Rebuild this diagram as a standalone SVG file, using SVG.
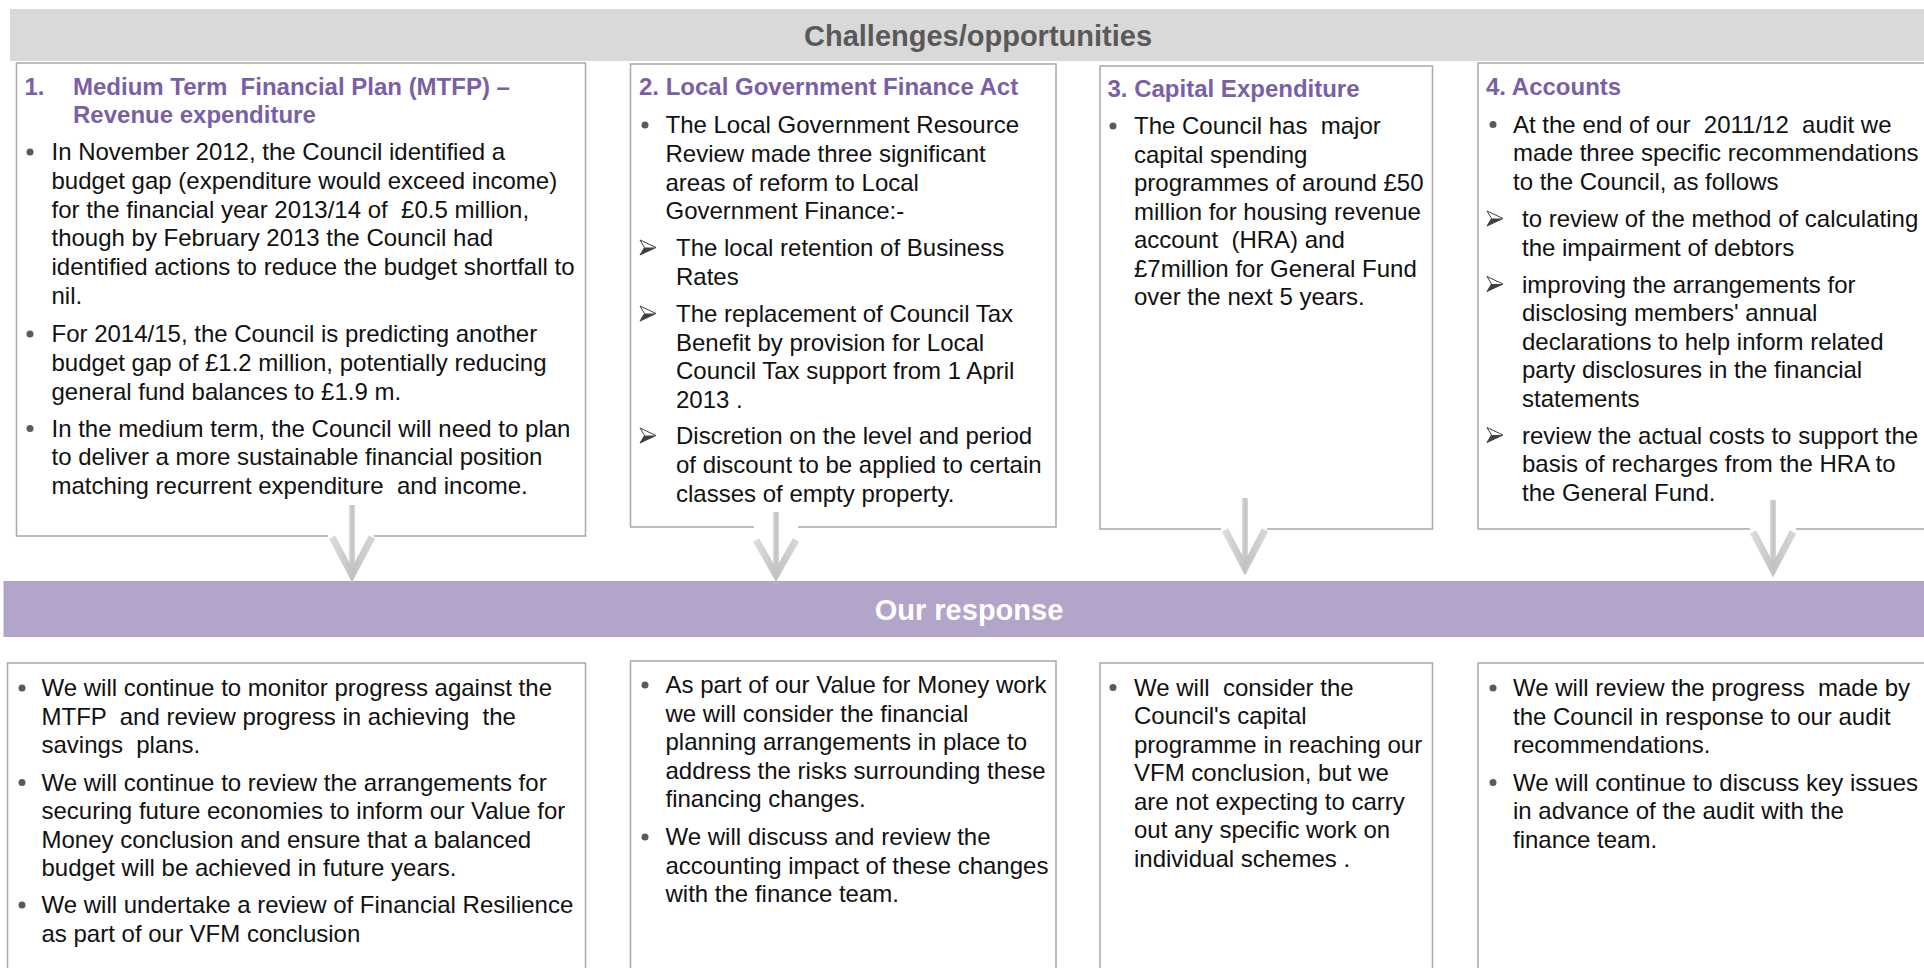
<svg xmlns="http://www.w3.org/2000/svg" width="1924" height="968" viewBox="0 0 1924 968">
<defs>
<style>
text { font-family: "Liberation Sans", Arial, sans-serif; white-space: pre; }
.t { font-size: 24px; fill: #111111; }
.h { font-size: 24px; font-weight: bold; fill: #7b5fa6; }
.title { font-size: 29px; font-weight: bold; text-anchor: middle; }
.box { fill: #ffffff; stroke: #a9a9a9; stroke-width: 1.5; }
.dot { fill: #5a5a5a; }
.shaft { fill: url(#ag); }
.vhead { fill: none; stroke: url(#ag); stroke-width: 7; stroke-linejoin: miter; }
.gap { fill: #ffffff; }
</style>
<linearGradient id="ag" x1="0" y1="0" x2="1" y2="0">
<stop offset="0" stop-color="#dcdcdc"/>
<stop offset="0.5" stop-color="#c2c2c2"/>
<stop offset="1" stop-color="#d6d6d6"/>
</linearGradient>
<symbol id="arr" viewBox="0 0 16 15" width="16" height="15" overflow="visible">
<path d="M0,0 L16,7.5 L0,15 L4.5,7.5 Z" fill="#ffffff" stroke="#404040" stroke-width="1"/>
<path d="M4.5,7.5 L16,7.5 L0,15 Z" fill="#404040"/>
</symbol>
</defs>

<g id="header-challenges">
<rect x="10" y="9" width="1914" height="52" fill="#d9d9d9"/>
<text class="title" x="978" y="46" fill="#595959">Challenges/opportunities</text>
</g>

<g id="header-response">
<rect x="3.5" y="581" width="1921" height="56" fill="#b2a5c9"/>
<text class="title" x="969" y="620" fill="#ffffff">Our response</text>
</g>

<g id="challenge-1">
<rect class="box" x="16.5" y="63" width="569" height="473"/>
<text class="h" x="24.5" y="95">1.</text>
<text class="h" x="73" y="95">Medium Term  Financial Plan (MTFP) –</text>
<text class="h" x="73" y="123">Revenue expenditure</text>
<circle class="dot" cx="30" cy="152" r="3.5"/>
<text class="t" x="51.5" y="160">In November 2012, the Council identified a</text>
<text class="t" x="51.5" y="189">budget gap (expenditure would exceed income)</text>
<text class="t" x="51.5" y="218">for the financial year 2013/14 of  £0.5 million,</text>
<text class="t" x="51.5" y="246">though by February 2013 the Council had</text>
<text class="t" x="51.5" y="275">identified actions to reduce the budget shortfall to</text>
<text class="t" x="51.5" y="304">nil.</text>
<circle class="dot" cx="30" cy="334" r="3.5"/>
<text class="t" x="51.5" y="342">For 2014/15, the Council is predicting another</text>
<text class="t" x="51.5" y="371">budget gap of £1.2 million, potentially reducing</text>
<text class="t" x="51.5" y="399.5">general fund balances to £1.9 m.</text>
<circle class="dot" cx="30" cy="428.5" r="3.5"/>
<text class="t" x="51.5" y="436.5">In the medium term, the Council will need to plan</text>
<text class="t" x="51.5" y="465">to deliver a more sustainable financial position</text>
<text class="t" x="51.5" y="494">matching recurrent expenditure  and income.</text>
</g>

<g id="challenge-2">
<rect class="box" x="630.5" y="64" width="425.5" height="463"/>
<text class="h" x="639" y="95">2. Local Government Finance Act</text>
<circle class="dot" cx="645" cy="125" r="3.5"/>
<text class="t" x="665.5" y="133">The Local Government Resource</text>
<text class="t" x="665.5" y="162">Review made three significant</text>
<text class="t" x="665.5" y="190.5">areas of reform to Local</text>
<text class="t" x="665.5" y="219">Government Finance:-</text>
<use href="#arr" x="640" y="240"/>
<text class="t" x="676" y="256">The local retention of Business</text>
<text class="t" x="676" y="284.5">Rates</text>
<use href="#arr" x="640" y="306"/>
<text class="t" x="676" y="322">The replacement of Council Tax</text>
<text class="t" x="676" y="350.5">Benefit by provision for Local</text>
<text class="t" x="676" y="379">Council Tax support from 1 April</text>
<text class="t" x="676" y="407.5">2013 .</text>
<use href="#arr" x="640" y="428"/>
<text class="t" x="676" y="444">Discretion on the level and period</text>
<text class="t" x="676" y="473">of discount to be applied to certain</text>
<text class="t" x="676" y="501.5">classes of empty property.</text>
</g>

<g id="challenge-3">
<rect class="box" x="1100" y="66" width="332.5" height="463"/>
<text class="h" x="1107.5" y="97">3. Capital Expenditure</text>
<circle class="dot" cx="1113" cy="126" r="3.5"/>
<text class="t" x="1134" y="134">The Council has  major</text>
<text class="t" x="1134" y="162.5">capital spending</text>
<text class="t" x="1134" y="191">programmes of around £50</text>
<text class="t" x="1134" y="219.5">million for housing revenue</text>
<text class="t" x="1134" y="248">account  (HRA) and</text>
<text class="t" x="1134" y="276.5">£7million for General Fund</text>
<text class="t" x="1134" y="305">over the next 5 years.</text>
</g>

<g id="challenge-4">
<rect class="box" x="1478" y="63" width="460" height="466"/>
<text class="h" x="1486" y="95">4. Accounts</text>
<circle class="dot" cx="1493" cy="124.5" r="3.5"/>
<text class="t" x="1513" y="132.5">At the end of our  2011/12  audit we</text>
<text class="t" x="1513" y="161">made three specific recommendations</text>
<text class="t" x="1513" y="189.5">to the Council, as follows</text>
<use href="#arr" x="1487" y="211"/>
<text class="t" x="1522" y="227">to review of the method of calculating</text>
<text class="t" x="1522" y="255.5">the impairment of debtors</text>
<use href="#arr" x="1487" y="276.5"/>
<text class="t" x="1522" y="292.5">improving the arrangements for</text>
<text class="t" x="1522" y="321">disclosing members' annual</text>
<text class="t" x="1522" y="349.5">declarations to help inform related</text>
<text class="t" x="1522" y="378">party disclosures in the financial</text>
<text class="t" x="1522" y="406.5">statements</text>
<use href="#arr" x="1487" y="427.5"/>
<text class="t" x="1522" y="443.5">review the actual costs to support the</text>
<text class="t" x="1522" y="472">basis of recharges from the HRA to</text>
<text class="t" x="1522" y="500.5">the General Fund.</text>
</g>

<g id="response-1">
<rect class="box" x="7.5" y="663" width="578" height="320"/>
<circle class="dot" cx="22" cy="688" r="3.5"/>
<text class="t" x="41.5" y="696">We will continue to monitor progress against the</text>
<text class="t" x="41.5" y="724.5">MTFP  and review progress in achieving  the</text>
<text class="t" x="41.5" y="753">savings  plans.</text>
<circle class="dot" cx="22" cy="782.5" r="3.5"/>
<text class="t" x="41.5" y="790.5">We will continue to review the arrangements for</text>
<text class="t" x="41.5" y="819">securing future economies to inform our Value for</text>
<text class="t" x="41.5" y="847.5">Money conclusion and ensure that a balanced</text>
<text class="t" x="41.5" y="876">budget will be achieved in future years.</text>
<circle class="dot" cx="22" cy="905" r="3.5"/>
<text class="t" x="41.5" y="913">We will undertake a review of Financial Resilience</text>
<text class="t" x="41.5" y="941.5">as part of our VFM conclusion</text>
</g>

<g id="response-2">
<rect class="box" x="630.5" y="661" width="425.5" height="320"/>
<circle class="dot" cx="645" cy="685" r="3.5"/>
<text class="t" x="665.5" y="693">As part of our Value for Money work</text>
<text class="t" x="665.5" y="721.5">we will consider the financial</text>
<text class="t" x="665.5" y="750">planning arrangements in place to</text>
<text class="t" x="665.5" y="778.5">address the risks surrounding these</text>
<text class="t" x="665.5" y="807">financing changes.</text>
<circle class="dot" cx="645" cy="837" r="3.5"/>
<text class="t" x="665.5" y="845">We will discuss and review the</text>
<text class="t" x="665.5" y="873.5">accounting impact of these changes</text>
<text class="t" x="665.5" y="902">with the finance team.</text>
</g>

<g id="response-3">
<rect class="box" x="1100" y="663" width="332.5" height="320"/>
<circle class="dot" cx="1113" cy="687.5" r="3.5"/>
<text class="t" x="1134" y="695.5">We will  consider the</text>
<text class="t" x="1134" y="724">Council's capital</text>
<text class="t" x="1134" y="752.5">programme in reaching our</text>
<text class="t" x="1134" y="781">VFM conclusion, but we</text>
<text class="t" x="1134" y="809.5">are not expecting to carry</text>
<text class="t" x="1134" y="838">out any specific work on</text>
<text class="t" x="1134" y="866.5">individual schemes .</text>
</g>

<g id="response-4">
<rect class="box" x="1478" y="663" width="460" height="320"/>
<circle class="dot" cx="1493" cy="688" r="3.5"/>
<text class="t" x="1513" y="696">We will review the progress  made by</text>
<text class="t" x="1513" y="724.5">the Council in response to our audit</text>
<text class="t" x="1513" y="753">recommendations.</text>
<circle class="dot" cx="1493" cy="782.5" r="3.5"/>
<text class="t" x="1513" y="790.5">We will continue to discuss key issues</text>
<text class="t" x="1513" y="819">in advance of the audit with the</text>
<text class="t" x="1513" y="847.5">finance team.</text>
</g>

<g id="connectors">
<rect class="gap" x="328" y="533" width="46" height="6"/>
<rect class="shaft" x="349" y="505" width="6" height="68"/>
<path class="vhead" d="M332,537 L352,575 L372,537"/>

<rect class="gap" x="754" y="524" width="44" height="6"/>
<rect class="shaft" x="773" y="512" width="6" height="61"/>
<path class="vhead" d="M756,540 L776,575 L796,540"/>

<rect class="gap" x="1221" y="526" width="46" height="6"/>
<rect class="shaft" x="1242" y="498" width="6" height="68"/>
<path class="vhead" d="M1225,530 L1245,568 L1265,530"/>

<rect class="gap" x="1750" y="526" width="46" height="6"/>
<rect class="shaft" x="1770" y="500" width="6" height="68"/>
<path class="vhead" d="M1753,532 L1773,570 L1793,532"/>
</g>
</svg>
